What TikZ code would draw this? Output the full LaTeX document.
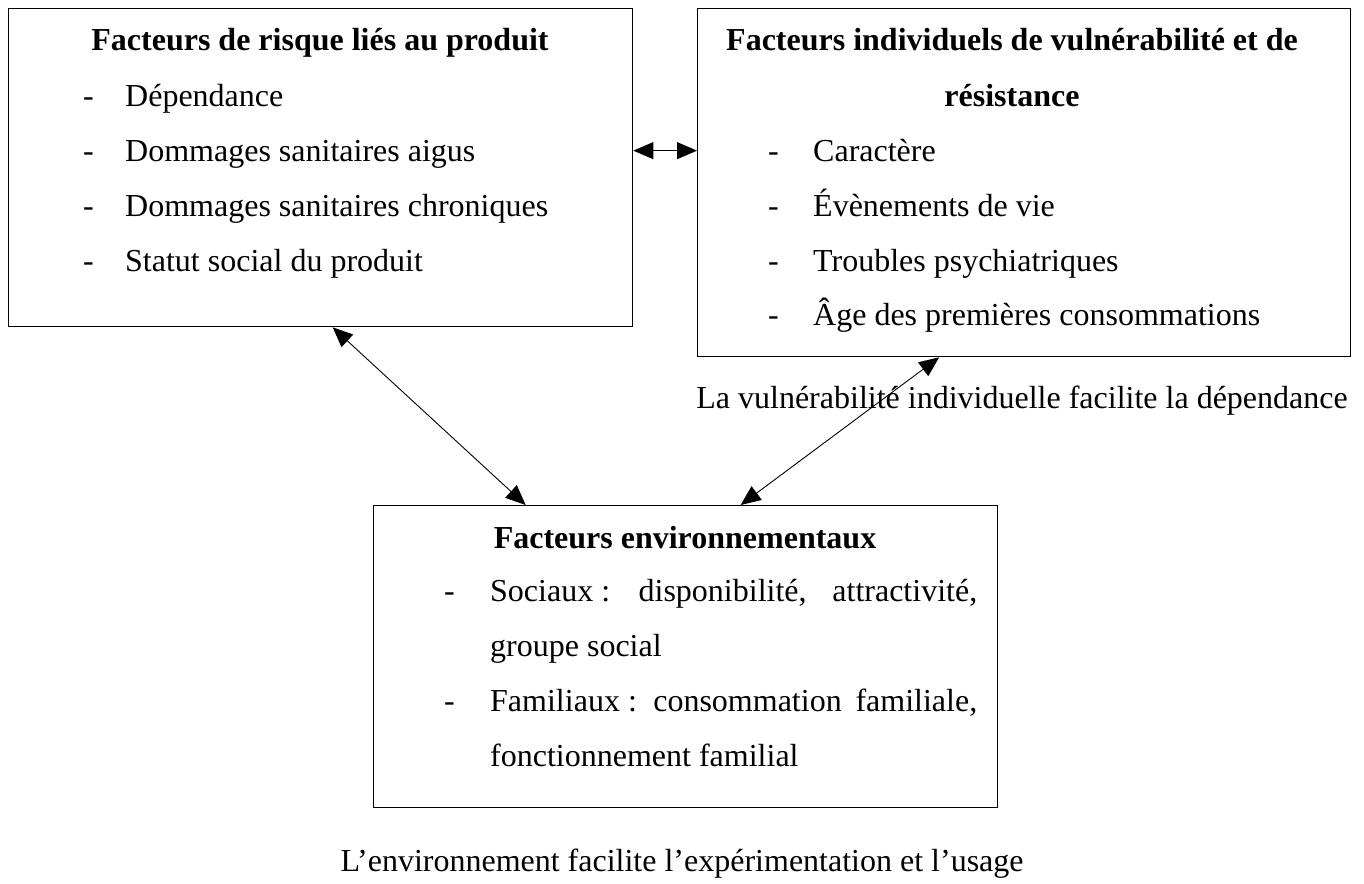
\documentclass[tikz,border=0pt]{standalone}
\usepackage{fontspec}
\setmainfont{Liberation Serif}
\usetikzlibrary{arrows.meta}
\tikzset{
  cadre/.style={draw, line width=1.3pt, inner sep=0pt, anchor=north west},
  titre/.style={anchor=base, inner sep=0pt, font=\bfseries},
  ligne/.style={anchor=base west, inner sep=0pt},
  lien/.style={line width=0.9pt, {Triangle[length=20pt,width=17pt]}-{Triangle[length=20pt,width=17pt]}}
}
\begin{document}
\begin{tikzpicture}[x=1pt,y=-1pt]
\fontsize{32}{55}\selectfont
\useasboundingbox (0,0) rectangle (1364,883);
\node [cadre, minimum width=624pt, minimum height=318pt] (produit) at (8,8) {};
\node [cadre, minimum width=653pt, minimum height=348pt] (indiv) at (697,8) {};
\node [cadre, minimum width=624pt, minimum height=302pt] (envir) at (373,505) {};
\node [titre] (tprod) at (320,51) {Facteurs de risque liés au produit};
\node [ligne] (p1d) at (83,106) {-};
\node [ligne] (p1) at (125,106) {Dépendance};
\node [ligne] (p2d) at (83,161) {-};
\node [ligne] (p2) at (125,161) {Dommages sanitaires aigus};
\node [ligne] (p3d) at (83,216) {-};
\node [ligne] (p3) at (125,216) {Dommages sanitaires chroniques};
\node [ligne] (p4d) at (83,271) {-};
\node [ligne] (p4) at (125,271) {Statut social du produit};
\node [titre] (tind1) at (1012,51) {Facteurs individuels de vulnérabilité et de};
\node [titre] (tind2) at (1012,106) {résistance};
\node [ligne] (i1d) at (768,161) {-};
\node [ligne] (i1) at (813,161) {Caractère};
\node [ligne] (i2d) at (768,216) {-};
\node [ligne] (i2) at (813,216) {Évènements de vie};
\node [ligne] (i3d) at (768,271) {-};
\node [ligne] (i3) at (813,271) {Troubles psychiatriques};
\node [ligne] (i4d) at (768,325) {-};
\node [ligne] (i4) at (813,325) {Âge des premières consommations};
\node [titre] (tenv) at (685,548) {Facteurs environnementaux};
\node [ligne] (e1d) at (444,601) {-};
\node [ligne] (e1) at (490,601) {\hbox to 487pt{Sociaux : \hfill disponibilité, \hfill attractivité,}};
\node [ligne] (e2) at (490,656) {groupe social};
\node [ligne] (e3d) at (444,711) {-};
\node [ligne] (e3) at (490,711) {\hbox to 487pt{Familiaux : \hfill consommation \hfill familiale,}};
\node [ligne] (e4) at (490,766) {fonctionnement familial};
\node [anchor=base, inner sep=0pt] (vuln) at (1022,408) {La vulnérabilité individuelle facilite la dépendance};
\node [anchor=base, inner sep=0pt] (usage) at (682,871) {L’environnement facilite l’expérimentation et l’usage};
\draw [lien] ([yshift=17pt]produit.east) -- ([yshift=32pt]indiv.west);
\draw [lien] ([xshift=12pt]produit.south) -- ([xshift=-160pt]envir.north);
\draw [lien] ([xshift=-85pt]indiv.south) -- ([xshift=55pt]envir.north);
\end{tikzpicture}
\end{document}
